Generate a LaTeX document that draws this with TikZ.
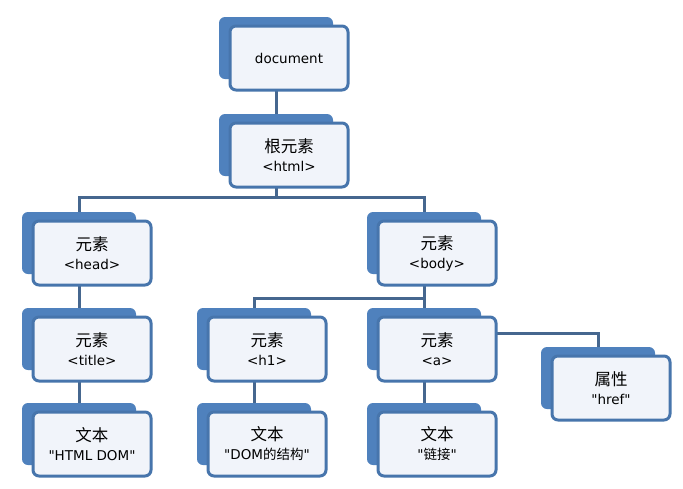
\documentclass[tikz,border=0pt]{standalone}
\usepackage{fontspec}
\setmainfont{DejaVu Sans}
\newfontfamily\cjk{Noto Sans CJK SC}
\usetikzlibrary{backgrounds}
\definecolor{backblue}{HTML}{4F81BD}
\definecolor{edgeblue}{HTML}{4775AC}
\definecolor{linkgray}{HTML}{46678F}
\definecolor{facefill}{HTML}{F1F4FA}
\newcommand\dompair[4]{%
  \node[backbox] (#1b) at (#2,#3) {};
  \node[facebox] (#1) at ([shift={(13,10)}]#1b.center) {#4};}
\newcommand\cjkhead[1]{{\cjk\fontsize{16.5}{19}\selectfont #1}}
\newcommand\qq{\textquotedbl}
\begin{document}
\begin{tikzpicture}[x=1pt,y=-1pt,
  backbox/.style={fill=backblue, draw=none, rounded corners=6pt,
    minimum width=114pt, minimum height=62pt, inner sep=0pt},
  facebox/.style={fill=facefill, draw=edgeblue, line width=3pt,
    rounded corners=6pt, minimum width=118pt, minimum height=64pt,
    inner sep=0pt, align=center, font=\fontsize{13.5}{19}\selectfont},
  link/.style={draw=linkgray, line width=3pt}]
\useasboundingbox (0,0) rectangle (683,488);
\dompair{doc}{276}{48}{document}
\dompair{root}{276}{145}{\cjkhead{根元素}\\<html>}
\dompair{head}{79}{243}{\cjkhead{元素}\\<head>}
\dompair{body}{424}{243}{\cjkhead{元素}\\<body>}
\dompair{title}{79}{339}{\cjkhead{元素}\\<title>}
\dompair{hone}{254}{339}{\cjkhead{元素}\\<h1>}
\dompair{a}{424}{339}{\cjkhead{元素}\\<a>}
\dompair{href}{598}{378}{\cjkhead{属性}\\\qq href\qq}
\dompair{tone}{79}{434}{\cjkhead{文本}\\\qq HTML DOM\qq}
\dompair{ttwo}{254}{434}{\cjkhead{文本}\\\qq DOM{\cjk 的结构}\qq}
\dompair{tthree}{424}{434}{\cjkhead{文本}\\\qq{\cjk 链接}\qq}
\coordinate (j1) at (0,197);
\coordinate (j2) at (0,298);
\coordinate (j3) at (0,333);
\begin{scope}[on background layer]
  \fill[white] (0,0) rectangle (683,488);
  \draw[link] (docb.center) -- (rootb.center);
  \draw[link] (rootb.center) -- (rootb.center |- j1) -| (headb.center);
  \draw[link] (rootb.center |- j1) -| (bodyb.center);
  \draw[link] (headb.center) -- (titleb.center);
  \draw[link] (titleb.center) -- (toneb.center);
  \draw[link] (bodyb.center) -- (bodyb.center |- j2) -| (honeb.center);
  \draw[link] (bodyb.center |- j2) -- (ab.center);
  \draw[link] (honeb.center) -- (ttwob.center);
  \draw[link] (ab.center) -- (tthreeb.center);
  \draw[link] (ab.center |- j3) -| (hrefb.center);
\end{scope}
\end{tikzpicture}
\end{document}
